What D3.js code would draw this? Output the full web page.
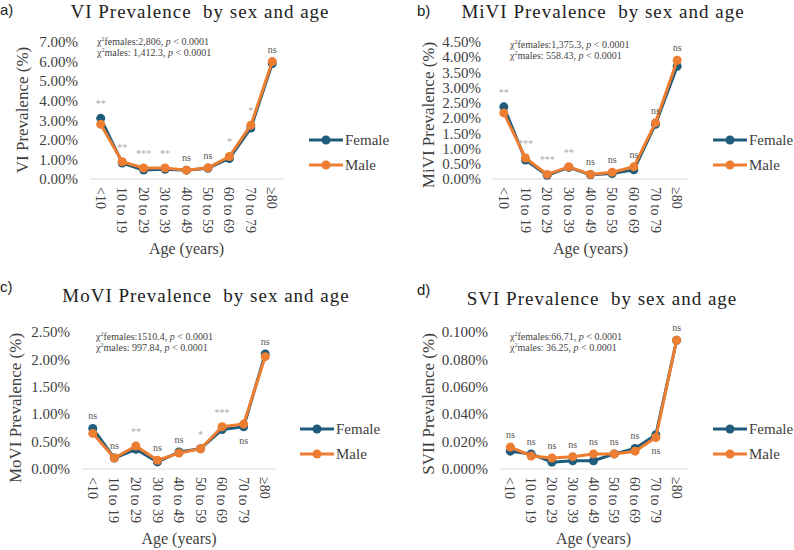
<!DOCTYPE html>
<html lang="en">
<head>
  <meta charset="UTF-8">
  <title>Prevalence by sex and age</title>
  <script src="https://cdn.jsdelivr.net/npm/d3@7"></script>
  <style>
    body { margin: 0; background: #fff; }
    text { font-family: "Liberation Serif", "Times New Roman", serif; fill: #404040; }
    .letter { font-family: "Liberation Sans", Arial, sans-serif; font-size: 15px; fill: #222; }
    .title { font-size: 19px; fill: #222; text-anchor: middle; white-space: pre; letter-spacing: 1px; }
    .tick-y { font-size: 15px; text-anchor: end; }
    .tick-x { font-size: 14px; }
    .axis-title { font-size: 16px; text-anchor: middle; }
    .y-title { font-size: 17px; text-anchor: middle; }
    .chi { font-size: 10px; fill: #444; }
    .legend { font-size: 15px; }
    .sig { font-size: 10px; text-anchor: middle; fill: #555; }
    .stars { fill: #aaa; }
  </style>
</head>
<body>
  <svg width="794" height="550"></svg>
  <script>
    var ages = ['<10', '10 to 19', '20 to 29', '30 to 39', '40 to 49', '50 to 59', '60 to 69', '70 to 79', '\u226580'];

    var viFemale = [3.10, 0.82, 0.46, 0.50, 0.45, 0.55, 1.05, 2.60, 5.90];
    var viMale   = [2.80, 0.88, 0.56, 0.56, 0.45, 0.57, 1.15, 2.75, 6.00];
    var viSig    = ['**', '**', '***', '**', 'ns', 'ns', '*', '*', 'ns'];

    var miviFemale = [2.37, 0.62, 0.12, 0.38, 0.14, 0.18, 0.30, 1.80, 3.70];
    var miviMale   = [2.17, 0.69, 0.15, 0.40, 0.15, 0.22, 0.40, 1.85, 3.90];
    var miviSig    = ['**', '***', '***', '**', 'ns', 'ns', 'ns', 'ns', 'ns'];

    var moviFemale = [0.74, 0.20, 0.36, 0.13, 0.31, 0.37, 0.72, 0.77, 2.10];
    var moviMale   = [0.65, 0.20, 0.42, 0.16, 0.29, 0.37, 0.77, 0.82, 2.05];
    var moviSig    = ['ns', 'ns', '**', 'ns', 'ns', '*', '***', 'ns', 'ns'];

    var sviFemale = [0.013, 0.011, 0.005, 0.006, 0.006, 0.011, 0.015, 0.025, 0.094];
    var sviMale   = [0.016, 0.0095, 0.008, 0.009, 0.011, 0.011, 0.013, 0.023, 0.094];
    var sviSig    = ['ns', 'ns', 'ns', 'ns', 'ns', 'ns', 'ns', 'ns', 'ns'];

    var femaleColor = '#1f5c7c';
    var maleColor = '#ed7d31';

    var panels = [
      {letter: 'a)', lx: 0, ly: 15, title: 'VI Prevalence  by sex and age', tx: 200, ty: 18,
       ylabel: 'VI Prevalence (%)', ylx: 22, yly: 110,
       x0: 90, x1: 283, y0: 179, y1: 42, max: 7, step: 1, fmt: '.2f',
       chi: ['females:2,806, ', 'males: 1,412.3, '], cx: 97, cy: 45,
       legX: 309, legY: 140, xtY: 254,
       female: viFemale, male: viMale, sig: viSig, below: []},
      {letter: 'b)', lx: 417, ly: 16, title: 'MiVI Prevalence  by sex and age', tx: 603, ty: 18,
       ylabel: 'MiVI Prevalence (%)', ylx: 428, yly: 115,
       x0: 493, x1: 688, y0: 179, y1: 42, max: 4.5, step: 0.5, fmt: '.2f',
       chi: ['females:1,375.3, ', 'males: 558.43, '], cx: 510, cy: 48,
       legX: 713, legY: 140, xtY: 254,
       female: miviFemale, male: miviMale, sig: miviSig, below: []},
      {letter: 'c)', lx: 0, ly: 292, title: 'MoVI Prevalence  by sex and age', tx: 206, ty: 302,
       ylabel: 'MoVI Prevalence (%)', ylx: 15, yly: 408,
       x0: 82, x1: 276, y0: 469, y1: 332, max: 2.5, step: 0.5, fmt: '.2f',
       chi: ['females:1510.4, ', 'males: 997.84, '], cx: 96, cy: 340,
       legX: 300, legY: 429, xtY: 544,
       female: moviFemale, male: moviMale, sig: moviSig, below: [7]},
      {letter: 'd)', lx: 417, ly: 295, title: 'SVI Prevalence  by sex and age', tx: 602, ty: 305,
       ylabel: 'SVII Prevalence (%)', ylx: 428, yly: 404,
       x0: 500, x1: 687, y0: 469, y1: 332, max: 0.1, step: 0.02, fmt: '.3f',
       chi: ['females:66.71, ', 'males: 36.25, '], cx: 510, cy: 340,
       legX: 713, legY: 429, xtY: 544,
       female: sviFemale, male: sviMale, sig: sviSig, below: [7]}
    ];

    var svg = d3.select('svg');

    panels.forEach(function(p) {
      var g = svg.append('g');

      var x = d3.scalePoint().domain(ages).range([p.x0, p.x1]).padding(0.5);
      var y = d3.scaleLinear().domain([0, p.max]).range([p.y0, p.y1]);

      g.append('text').attr('class', 'letter').attr('x', p.lx).attr('y', p.ly).text(p.letter);
      g.append('text').attr('class', 'title').attr('x', p.tx).attr('y', p.ty).text(p.title);

      // y ticks
      var ticks = d3.range(0, p.max + p.step / 2, p.step);
      g.selectAll('.tick-y')
        .data(ticks)
        .enter()
        .append('text')
        .attr('class', 'tick-y')
        .attr('x', p.x0 - 12)
        .attr('y', function(d) { return y(d); })
        .attr('dy', '.35em')
        .text(function(d) { return d3.format(p.fmt)(d) + '%'; });

      // baseline
      g.append('line')
        .attr('x1', p.x0).attr('x2', p.x1)
        .attr('y1', p.y0).attr('y2', p.y0)
        .attr('stroke', '#d9d9d9').attr('stroke-width', 1);

      // x tick labels, rotated
      g.selectAll('.tick-x')
        .data(ages)
        .enter()
        .append('text')
        .attr('class', 'tick-x')
        .attr('transform', function(d) {
          return 'translate(' + x(d) + ',' + (p.y0 + 8) + ') rotate(90)';
        })
        .attr('dy', '.35em')
        .text(function(d) { return d; });

      g.append('text').attr('class', 'axis-title')
        .attr('x', (p.x0 + p.x1) / 2).attr('y', p.xtY).text('Age (years)');

      g.append('text').attr('class', 'y-title')
        .attr('transform', 'translate(' + p.ylx + ',' + p.yly + ') rotate(-90)')
        .attr('dy', '.35em')
        .text(p.ylabel);

      // chi-square notes
      p.chi.forEach(function(c, i) {
        var t = g.append('text').attr('class', 'chi')
          .attr('x', p.cx).attr('y', p.cy + i * 11);
        t.append('tspan').text('\u03c7');
        t.append('tspan').attr('dy', -4).attr('font-size', '6px').text('2');
        t.append('tspan').attr('dy', 4).text(c);
        t.append('tspan').attr('font-style', 'italic').text('p');
        t.append('tspan').text(' < 0.0001');
      });

      var series = [
        {key: 'Female', color: femaleColor, values: p.female},
        {key: 'Male', color: maleColor, values: p.male}
      ];

      var line = d3.line()
        .x(function(d, i) { return x(ages[i]); })
        .y(function(d) { return y(d); });

      series.forEach(function(s) {
        g.append('path')
          .attr('fill', 'none')
          .attr('stroke', s.color)
          .attr('stroke-width', 3)
          .attr('stroke-linejoin', 'round')
          .attr('d', line(s.values));
        g.selectAll('.pt-' + s.key)
          .data(s.values)
          .enter()
          .append('circle')
          .attr('cx', function(d, i) { return x(ages[i]); })
          .attr('cy', function(d) { return y(d); })
          .attr('r', 4.5)
          .attr('fill', s.color);
      });

      // significance marks
      g.selectAll('.sig')
        .data(p.sig)
        .enter()
        .append('text')
        .attr('class', function(d) { return d === 'ns' ? 'sig' : 'sig stars'; })
        .attr('x', function(d, i) { return x(ages[i]); })
        .attr('y', function(d, i) {
          if (p.below.indexOf(i) >= 0) {
            return y(Math.min(p.female[i], p.male[i])) + 17;
          }
          return y(Math.max(p.female[i], p.male[i])) - (d === 'ns' ? 9 : 11);
        })
        .text(function(d) { return d; });

      // legend
      series.forEach(function(s, i) {
        var ly = p.legY + i * 25;
        g.append('line')
          .attr('x1', p.legX).attr('x2', p.legX + 34)
          .attr('y1', ly).attr('y2', ly)
          .attr('stroke', s.color).attr('stroke-width', 3);
        g.append('circle')
          .attr('cx', p.legX + 17).attr('cy', ly).attr('r', 4.5)
          .attr('fill', s.color);
        g.append('text').attr('class', 'legend')
          .attr('x', p.legX + 36).attr('y', ly).attr('dy', '.35em')
          .text(s.key);
      });
    });
  </script>
</body>
</html>
